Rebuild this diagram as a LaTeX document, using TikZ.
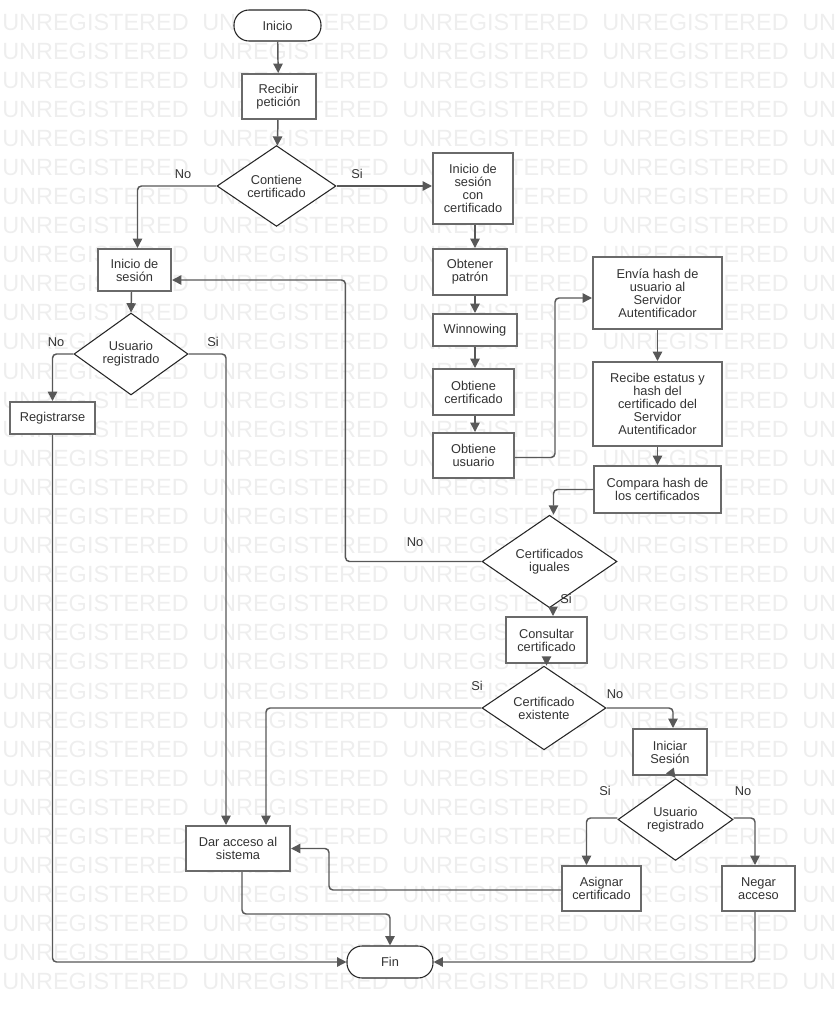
\documentclass[tikz,border=0pt]{standalone}
\usepackage{fontspec}
\setmainfont{Liberation Sans}
\usetikzlibrary{shapes.geometric,arrows.meta}
\definecolor{flowLineColor}{HTML}{585858}
\definecolor{flowBoxColor}{HTML}{6A6A6A}
\definecolor{flowTextColor}{HTML}{333333}
\definecolor{flowMarkColor}{HTML}{EEEEEE}
\def\px{0.75pt}
\tikzset{
  nodeText/.style={text=flowTextColor, font=\fontsize{9.6}{9.8}\selectfont, align=center, inner sep=1pt},
  boxSize/.style 2 args={minimum width=#1*\px, minimum height=#2*\px},
  procBox/.style={nodeText, rectangle, draw=flowBoxColor, line width=1.5pt, fill=white},
  decision/.style={nodeText, diamond, draw=black!85, line width=0.8pt, fill=white, inner sep=0pt},
  terminal/.style={nodeText, rectangle, rounded corners=15*\px, draw=black!85, line width=0.8pt, fill=white},
  flowLine/.style={draw=flowLineColor, line width=1.1pt, rounded corners=4*\px, -{Triangle[length=7pt,width=7pt]}},
  branchLabel/.style={text=flowTextColor, font=\fontsize{9.6}{9.8}\selectfont, inner sep=0pt},
  wmark/.style={text=flowMarkColor, font=\fontsize{17.6}{18}\selectfont, inner sep=0pt, anchor=base west}
}
\begin{document}
\begin{tikzpicture}
\begin{scope}[x=\px, y=-\px]
  \useasboundingbox (0,0) rectangle (835,1018);
  % Watermark behind the chart
  \foreach \row in {0,...,33}
    \foreach \col in {0,...,4}
      \node[wmark] at (2+200*\col, 30+29.09*\row) {UNREGISTERED};
  % Main column
  \node[terminal, boxSize={87}{31}] (inicio) at (277.5,25.5) {Inicio};
  \node[procBox, boxSize={74}{45}] (recibir) at (278.5,96.5) {Recibir\\petición};
  \node[decision, boxSize={119}{64}] (contiene) at (276.5,186) {Contiene\\certificado};
  % Left branch
  \node[procBox, boxSize={73}{42}] (inicioSesion) at (134.5,270) {Inicio de\\sesión};
  \node[decision, boxSize={114}{63}] (usuarioReg) at (131,354) {Usuario\\registrado};
  \node[procBox, boxSize={85}{32}] (registrarse) at (52.5,418) {Registrarse};
  \node[procBox, boxSize={104}{45}] (darAcceso) at (238,848.5) {Dar acceso al\\sistema};
  \node[terminal, boxSize={86}{32}] (fin) at (390,962) {Fin};
  % Certificate branch
  \node[procBox, boxSize={80}{71}] (inicioCert) at (473,188.5) {Inicio de\\sesión\\con\\certificado};
  \node[procBox, boxSize={74}{46}] (obtPatron) at (470,272) {Obtener\\patrón};
  \node[procBox, boxSize={84}{32}] (winnowing) at (475,330) {Winnowing};
  \node[procBox, boxSize={81}{46}] (obtCert) at (473.5,392) {Obtiene\\certificado};
  \node[procBox, boxSize={81}{45}] (obtUsuario) at (473.5,455.5) {Obtiene\\usuario};
  \node[procBox, boxSize={129}{72}] (enviaHash) at (657.5,293) {Envía hash de\\usuario al\\Servidor\\Autentificador};
  \node[procBox, boxSize={129}{84}] (recibeHash) at (657.5,404) {Recibe estatus y\\hash del\\certificado del\\Servidor\\Autentificador};
  \node[procBox, boxSize={127}{47}] (comparaHash) at (657.5,489.5) {Compara hash de\\los certificados};
  \node[decision, boxSize={135}{63}] (certIguales) at (549.5,561.5) {Certificados\\iguales};
  \node[procBox, boxSize={81}{46}] (consultar) at (546.5,640) {Consultar\\certificado};
  \node[decision, boxSize={124}{50}] (certExiste) at (544,708) {Certificado\\existente};
  \node[procBox, boxSize={74}{46}] (iniciar) at (670,752) {Iniciar\\Sesión};
  \node[decision, boxSize={115}{51}] (usuarioReg2) at (675.5,819.5) {Usuario\\registrado};
  \node[procBox, boxSize={79}{45}] (asignar) at (601.5,888.5) {Asignar\\certificado};
  \node[procBox, boxSize={73}{45}] (negar) at (758.5,888.5) {Negar\\acceso};
  % Branch labels
  \node[branchLabel] (noContiene) at (183,174) {No};
  \node[branchLabel] (siContiene) at (357,174) {Si};
  \node[branchLabel] (noUsuario) at (56,342) {No};
  \node[branchLabel] (siUsuario) at (213,342) {Si};
  \node[branchLabel] (noIguales) at (415,542) {No};
  \node[branchLabel] (siIguales) at (566,599) {Si};
  \node[branchLabel] (siExiste) at (477,686) {Si};
  \node[branchLabel] (noExiste) at (615,694) {No};
  \node[branchLabel] (siUsuario2) at (605,791) {Si};
  \node[branchLabel] (noUsuario2) at (743,791) {No};
  % Connectors
  \draw[flowLine] (inicio) -- (recibir);
  \draw[flowLine] (recibir) -- (contiene);
  \draw[flowLine] (contiene.east) -- (contiene.east -| inicioCert.west);
  \draw[flowLine] (contiene.west) -| ([xshift=3*\px]inicioSesion.north);
  \draw[flowLine] ([xshift=-3*\px]inicioSesion.south) -- (usuarioReg.north);
  \draw[flowLine] (usuarioReg.west) -| (registrarse.north);
  \draw[flowLine] (usuarioReg.east) -| ([xshift=-12*\px]darAcceso.north);
  \draw[flowLine] (registrarse.south) |- (fin.west);
  \draw[flowLine] ([xshift=4*\px]darAcceso.south) -- ++(0,42) -| (fin.north);
  \draw[flowLine] ([xshift=2*\px]inicioCert.south) -- ([xshift=5*\px]obtPatron.north);
  \draw[flowLine] ([xshift=5*\px]obtPatron.south) -- (winnowing.north);
  \draw[flowLine] (winnowing.south) -- ([xshift=1.5*\px]obtCert.north);
  \draw[flowLine] ([xshift=1.5*\px]obtCert.south) -- ([xshift=1.5*\px]obtUsuario.north);
  \draw[flowLine] ([yshift=-2*\px]obtUsuario.east) -- ++(40,0) |- ([yshift=-5*\px]enviaHash.west);
  \draw[flowLine] (enviaHash) -- (recibeHash);
  \draw[flowLine] (recibeHash) -- (comparaHash);
  \draw[flowLine] (comparaHash.west) -| ([xshift=4*\px]certIguales.north);
  \draw[flowLine] (certIguales.west) -- ++(-136,0) |- ([yshift=-10*\px]inicioSesion.east);
  \draw[flowLine] ([xshift=3.5*\px]certIguales.south) -- ([xshift=3.5*\px]certIguales.south |- consultar.north);
  \draw[flowLine] (consultar.south) -- (consultar.south |- certExiste.north);
  \draw[flowLine] (certExiste.west) -| ([xshift=28*\px]darAcceso.north);
  \draw[flowLine] (certExiste.east) -| ([xshift=3*\px]iniciar.north);
  \draw[flowLine] ([xshift=4*\px]iniciar.south) -- (usuarioReg2.north);
  \draw[flowLine] ([yshift=1.5*\px]usuarioReg2.west) -| ([xshift=-15*\px]asignar.north);
  \draw[flowLine] ([yshift=1.5*\px]usuarioReg2.east) -| ([xshift=-3.5*\px]negar.north);
  \draw[flowLine] ([yshift=-1.5*\px]asignar.west) -- ++(-232,0) |- (darAcceso.east);
  \draw[flowLine] ([xshift=-3.5*\px]negar.south) |- (fin.east);
\end{scope}
\end{tikzpicture}
\end{document}
